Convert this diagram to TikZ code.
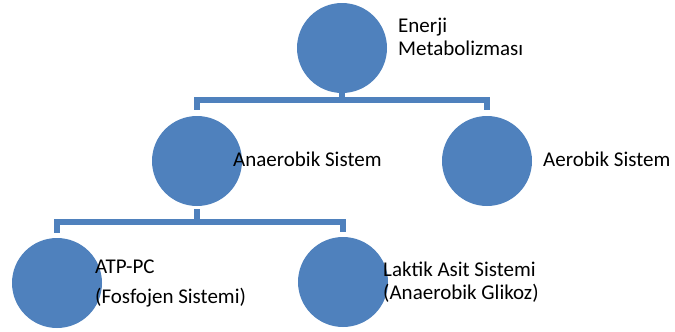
\documentclass[tikz,border=0pt]{standalone}
\usepackage{fontspec}
\setmainfont{Carlito}
\usetikzlibrary{positioning}

\begin{document}
\begin{tikzpicture}[x=1pt, y=-1pt,
    ball/.style={circle, fill=blue1, minimum size=90pt, inner sep=0pt},
    lbl/.style={anchor=west, inner sep=0pt, align=left, font=\fontsize{21}{23}\selectfont},
    conn/.style={draw=blue1, line width=5.5pt, line join=miter}]
\definecolor{blue1}{HTML}{4F81BD}
\useasboundingbox (0,0) rectangle (675,332);
   \node[ball] (em) at (342,48) {};
    \node[ball] (an) at (197,161) {};
    \node[ball] (ae) at (487,161) {};
    \node[ball] (atp) at (57,283) {};
    \node[ball] (lak) at (343,282) {};
    \node[lbl] (emt) at (398,37) {Enerji\\Metabolizması};
    \node[lbl] (ant) at (233,159) {Anaerobik Sistem};
    \node[lbl] (aet) at (543,159) {Aerobik Sistem};
    \node[lbl] (atpt) at (95,283) {ATP-PC\\[7pt](Fosfojen Sistemi)};
    \node[lbl] (lakt) at (383,282) {Laktik Asit Sistemi\\(Anaerobik Glikoz)};
    \coordinate (bus1) at (342,100);
    \coordinate (bus2) at (197,222);
\draw[conn] (em.south) -- (bus1);
\draw[conn, shorten <=6pt] (an.north) |- (bus1);
\draw[conn, shorten <=6pt] (ae.north) |- (bus1);
\draw[conn, shorten <=3pt] (an.south) -- (bus2);
\draw[conn, shorten <=5pt] (atp.north) |- (bus2);
\draw[conn, shorten <=5pt] (lak.north) |- (bus2);
    \end{tikzpicture}
\end{document}
